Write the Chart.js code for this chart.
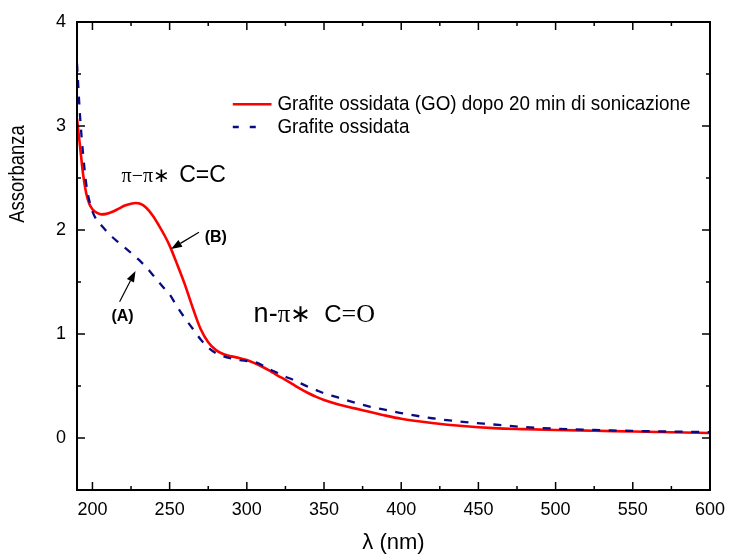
<!DOCTYPE html>
<html><head><meta charset="utf-8">
<script src="https://cdn.jsdelivr.net/npm/chart.js@4/dist/chart.umd.min.js"></script>
<style>html,body{margin:0;padding:0;background:#fff}canvas{display:block}</style>
</head><body>
<canvas id="c" width="734" height="556"></canvas>
<script>
// ---- data ----
const wavelengths = [190,192,194,196,198,200,203,206,209,213,217,221,225,228,231,235,239,243,247,250,255,260,265,270,275,280,285,290,295,300,305,310,315,320,325,330,335,340,345,350,360,370,380,390,400,420,440,460,480,500,525,550,575,600];
const absGOSonicated = [3.07,2.80,2.53,2.35,2.25,2.20,2.165,2.15,2.155,2.175,2.205,2.235,2.252,2.26,2.252,2.212,2.14,2.045,1.94,1.85,1.665,1.47,1.25,1.05,0.92,0.845,0.805,0.785,0.77,0.75,0.72,0.685,0.645,0.60,0.56,0.515,0.47,0.43,0.395,0.365,0.32,0.285,0.25,0.215,0.185,0.145,0.115,0.095,0.085,0.077,0.07,0.062,0.055,0.048];
const absGO = [3.60,3.09,2.72,2.44,2.28,2.18,2.09,2.04,1.99,1.93,1.88,1.83,1.78,1.74,1.70,1.64,1.57,1.50,1.43,1.38,1.26,1.15,1.05,0.95,0.87,0.815,0.785,0.765,0.75,0.74,0.73,0.70,0.66,0.625,0.59,0.56,0.525,0.49,0.46,0.43,0.385,0.34,0.30,0.27,0.24,0.19,0.155,0.13,0.105,0.09,0.078,0.068,0.062,0.057];
const seriesLabels = ['Grafite ossidata (GO) dopo 20 min di sonicazione', 'Grafite ossidata'];
const xMajorTicks = [200,250,300,350,400,450,500,550,600];
const xMinorTicks = [225,275,325,375,425,475,525,575];
const yMajorTicks = [0,1,2,3,4];
const yMinorTicks = [-0.5,0.5,1.5,2.5,3.5];
const xTitle = 'λ (nm)';
const yTitle = 'Assorbanza';

const SANS = "'Liberation Sans', Arial, sans-serif";
const SERIF = "'Liberation Serif', 'Times New Roman', serif";
const RED = '#ff0000', NAVY = '#0a0a84';

const decor = {
  id: 'decor',
  afterDraw(chart) {
    const ctx = chart.ctx;
    const {left, right, top, bottom} = chart.chartArea;
    const xs = chart.scales.x, ys = chart.scales.y;
    const P = (lx, a) => [xs.getPixelForValue(lx), ys.getPixelForValue(a)];
    ctx.save();
    // frame
    ctx.strokeStyle = '#000'; ctx.lineWidth = 2; ctx.setLineDash([]);
    ctx.strokeRect(left, top, right - left, bottom - top);
    // inward ticks
    ctx.lineWidth = 1.5;
    const tick = (x1, y1, x2, y2) => { ctx.beginPath(); ctx.moveTo(x1, y1); ctx.lineTo(x2, y2); ctx.stroke(); };
    xMajorTicks.forEach(v => { const p = xs.getPixelForValue(v); tick(p, bottom, p, bottom - 8); tick(p, top, p, top + 8); });
    xMinorTicks.forEach(v => { const p = xs.getPixelForValue(v); tick(p, bottom, p, bottom - 4); tick(p, top, p, top + 4); });
    yMajorTicks.forEach(v => { const p = ys.getPixelForValue(v); tick(left, p, left + 8, p); tick(right, p, right - 8, p); });
    yMinorTicks.forEach(v => { const p = ys.getPixelForValue(v); tick(left, p, left + 4, p); tick(right, p, right - 4, p); });

    // text helper with horizontal compression (reference text is narrow)
    const text = (txt, x, y, font, sx) => {
      ctx.save(); ctx.translate(x, y); ctx.scale(sx, 1); ctx.font = font; ctx.fillText(txt, 0, 0); ctx.restore();
      ctx.font = font; return ctx.measureText(txt).width * sx;
    };

    // axis titles
    ctx.fillStyle = '#000';
    ctx.textAlign = 'center'; ctx.textBaseline = 'middle';
    ctx.save(); ctx.translate(18, 174); ctx.rotate(-Math.PI / 2); text(yTitle, 0, 0, '22px ' + SANS, 0.84); ctx.restore();
    text(xTitle, (left + right) / 2, 543, '22px ' + SANS, 1);

    // legend
    const ds = chart.data.datasets;
    ctx.textAlign = 'left'; ctx.textBaseline = 'middle';
    const [lx1, ly1] = P(290.9, 3.21), [lx2] = P(316, 3.21), [tx] = P(319.8, 3.21);
    ctx.strokeStyle = ds[0].borderColor; ctx.lineWidth = 2.5; ctx.setLineDash([]);
    tick(lx1, ly1, lx2, ly1);
    text(ds[0].label, tx, ly1, '20.5px ' + SANS, 0.92);
    const [, ly2] = P(290.9, 2.99), [lx3] = P(310.8, 2.99);
    ctx.strokeStyle = ds[1].borderColor; ctx.lineWidth = 2.5; ctx.setLineDash([6, 11]);
    tick(lx1, ly2, lx3, ly2);
    ctx.setLineDash([]);
    text(ds[1].label, tx, ly2, '20.5px ' + SANS, 0.92);

    // annotations
    ctx.textBaseline = 'alphabetic';
    const pieces = (lx, a, parts) => {
      let [x, y] = P(lx, a);
      parts.forEach(([txt, font, gap]) => { x += text(txt, x, y, font, 1) + (gap || 0); });
    };
    pieces(218.9, 2.464, [['π−π∗', '20px ' + SERIF, 6]]);
    pieces(256.2, 2.464, [['C=C', '23px ' + SANS]]);
    pieces(304.4, 1.115, [['n-', '27px ' + SANS], ['π∗', '25px ' + SERIF, 13], ['C', '24px ' + SANS], ['=O', '26px ' + SERIF]]);
    let [bx, by] = P(272.7, 1.885); text('(B)', bx, by, 'bold 16px ' + SANS, 1);
    let [ax, ay] = P(212.3, 1.125); text('(A)', ax, ay, 'bold 16px ' + SANS, 1);

    const arrow = (t, h) => {
      const [x1, y1] = P(t[0], t[1]), [x2, y2] = P(h[0], h[1]);
      const ang = Math.atan2(y2 - y1, x2 - x1), L = 11, W = 4;
      ctx.strokeStyle = '#000'; ctx.fillStyle = '#000'; ctx.lineWidth = 1.2;
      const bxp = x2 - L * Math.cos(ang), byp = y2 - L * Math.sin(ang);
      tick(x1, y1, bxp, byp);
      ctx.beginPath(); ctx.moveTo(x2, y2);
      ctx.lineTo(bxp + W * Math.sin(ang), byp - W * Math.cos(ang));
      ctx.lineTo(bxp - W * Math.sin(ang), byp + W * Math.cos(ang));
      ctx.closePath(); ctx.fill();
    };
    arrow([269.0, 1.978], [250.9, 1.817]);
    arrow([217.6, 1.311], [227.9, 1.606]);
    ctx.restore();
  }
};

new Chart(document.getElementById('c'), {
  type: 'line',
  data: {
    labels: wavelengths,
    datasets: [
      { label: seriesLabels[0], data: wavelengths.map((w, i) => ({x: w, y: absGOSonicated[i]})), borderColor: RED, borderWidth: 2.6, pointRadius: 0, cubicInterpolationMode: 'monotone', fill: false, order: 1 },
      { label: seriesLabels[1], data: wavelengths.map((w, i) => ({x: w, y: absGO[i]})), borderColor: NAVY, borderWidth: 2.3, borderDash: [8, 8.5], pointRadius: 0, cubicInterpolationMode: 'monotone', fill: false, order: 0 }
    ]
  },
  options: {
    responsive: false, animation: false, devicePixelRatio: 1,
    layout: { padding: { left: 0, right: 19, top: 22, bottom: 0 } },
    plugins: { legend: { display: false }, tooltip: { enabled: false } },
    scales: {
      x: {
        type: 'linear', min: 190, max: 600,
        grid: { display: false, drawTicks: false }, border: { display: false },
        afterBuildTicks: s => { s.ticks = xMajorTicks.map(v => ({value: v})); },
        afterFit: s => { s.height = 66; },
        ticks: { padding: 9, color: '#000', font: { family: SANS, size: 18 }, maxRotation: 0, autoSkip: false }
      },
      y: {
        type: 'linear', min: -0.5, max: 4,
        grid: { display: false, drawTicks: false }, border: { display: false },
        afterBuildTicks: s => { s.ticks = yMajorTicks.map(v => ({value: v})); },
        afterFit: s => { s.width = 77; },
        ticks: { padding: 11, color: '#000', font: { family: SANS, size: 18 } }
      }
    }
  },
  plugins: [decor]
});
</script>
</body></html>
